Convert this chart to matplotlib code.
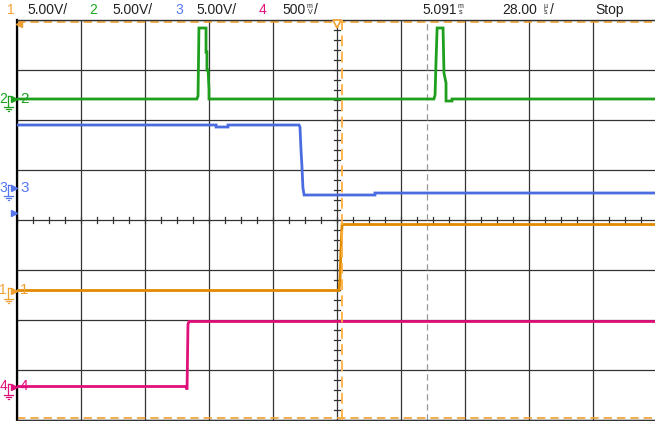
import matplotlib
matplotlib.use('Agg')
import matplotlib.pyplot as plt
from matplotlib.lines import Line2D
import numpy as np

plt.rcParams['font.family'] = ['Liberation Sans', 'DejaVu Sans']

# Ajustes del osciloscopio
t_div = 28.0          # us por division
n_div_x = 10
n_div_y = 8

# Canal 1 (naranja) 5 V/div, tierra en division -1.41
c1_escala, c1_offset = 5.0, -1.41
c1_t = [-140, 0.9, 1.3, 1.75, 2.2, 140]
c1_v = [0, 0, 1.1, 4.2, 6.6, 6.6]

# Canal 2 (verde) 5 V/div, tierra en division 2.42
c2_escala, c2_offset = 5.0, 2.42
c2_t = [-140, -61.3, -60.8, -60.4, -57.3, -57.3, -56.9, -56.9, -56.4, -56.0, -56.0,
        42.4, 42.9, 43.3, 43.8, 46.4, 46.8, 47.7, 47.7, 50.3, 50.3, 140]
c2_v = [0, 0, 0.3, 7.1, 7.1, 4.7, 4.7, 2.9, 2.9, 0.9, 0,
        0, 0.4, 3.6, 7.1, 7.1, 2.6, 1.6, -0.2, -0.2, 0, 0]

# Canal 3 (azul) 5 V/div, tierra en division 0.64
c3_escala, c3_offset = 5.0, 0.64
c3_t = [-140, -52.9, -52.9, -47.7, -47.7, -16.6, -16.2, -15.75, -15.3, -14.9, -14.4, 16.6, 16.6, 140]
c3_v = [6.3, 6.3, 6.1, 6.1, 6.3, 6.3, 6.1, 3.8, 2.0, 0, -0.7, -0.7, -0.5, -0.5]

# Canal 4 (magenta) 500 m/div, tierra en division -3.33
c4_escala, c4_offset = 0.5, -3.33
c4_t = [-140, -66.1, -65.6, -65.2, -64.75, 140]
c4_v = [0, 0, -0.03, 0.62, 0.65, 0.65]

# Cursores
cursor_disparo = 2.4
cursor_gris = 39.4

naranja = '#E08A00'
verde = '#1EA01E'
azul = '#4A6CE0'
rosa = '#E0107A'

W, H = 655, 421
fig = plt.figure(figsize=(W / 100, H / 100), dpi=100)
fig.patch.set_facecolor('white')

def fx(x):
    return x / W

def fy(y):
    return 1 - y / H

ax = fig.add_axes([fx(17), 1 / H, 640 / W, 400 / H])
ax.set_xlim(-t_div * n_div_x / 2, t_div * n_div_x / 2)
ax.set_ylim(-n_div_y / 2, n_div_y / 2)
ax.set_xticks([])
ax.set_yticks([])
for s in ax.spines.values():
    s.set_color('#333333')
    s.set_linewidth(1.0)
ax.spines['left'].set_color('black')
ax.spines['left'].set_linewidth(1.6)

# Reticula
for i in range(-5, 6):
    ax.axvline(i * t_div, color='#333333', lw=0.9, zorder=1)
for j in range(-4, 5):
    ax.axhline(j, color='#333333', lw=0.9, zorder=1)
# marcas en los ejes centrales
for k in np.arange(-4, 4.01, 0.2):
    ax.plot([-t_div * 0.045, t_div * 0.045], [k, k], color='#333333', lw=0.9, zorder=1)
for k in np.arange(-5, 5.01, 0.25):
    ax.plot([k * t_div, k * t_div], [-0.06, 0.06], color='#333333', lw=0.9, zorder=1)

# Cursores
ax.axvline(cursor_gris, color='#999999', lw=0.9, ls=(0, (5, 3)), zorder=2)
ax.axhline(3.97, color='#F0A030', lw=1.2, ls=(0, (5, 3)), zorder=2)
ax.axhline(-3.96, color='#F0A030', lw=1.2, ls=(0, (5, 3)), zorder=2)

# Trazas
canales = [(c2_t, c2_v, c2_escala, c2_offset, verde),
           (c3_t, c3_v, c3_escala, c3_offset, azul),
           (c1_t, c1_v, c1_escala, c1_offset, naranja),
           (c4_t, c4_v, c4_escala, c4_offset, rosa)]
for t, v, esc, off, col in canales:
    ax.plot(t, off + np.array(v) / esc, color=col, lw=2.0, solid_joinstyle='miter', zorder=3)

ax.axvline(cursor_disparo, color='#FFB040', lw=1.3, ls=(0, (6, 3)), zorder=4)
ax.plot([0], [3.93], marker='v', ms=6, mfc='white', mec='#F0A030', mew=1.2, clip_on=False, zorder=5)
ax.plot([-139], [3.93], marker='<', ms=5, color='#F0A030', clip_on=False, zorder=5)

# Marcadores de canal a la izquierda
marcas = [('2', c2_offset, verde), ('3', c3_offset, '#5577EE'),
          ('1', c1_offset, '#F0A030'), ('4', c4_offset, rosa)]
for nombre, off, col in marcas:
    y0 = 220 - off * 50
    fig.text(fx(-0.5), fy(y0), nombre, color=col, fontsize=10, va='center', ha='left')
    fig.text(fx(20), fy(y0), nombre, color=col, fontsize=11, va='center', ha='left')
    fig.add_artist(Line2D([fx(8), fx(8)], [fy(y0 - 3), fy(y0 + 8)], color=col, lw=0.9))
    fig.add_artist(Line2D([fx(8), fx(11)], [fy(y0 - 3), fy(y0 - 3)], color=col, lw=0.9))
    fig.add_artist(Line2D([fx(13.5)], [fy(y0)], marker='>', ms=5, color=col, lw=0))
    fig.add_artist(Line2D([fx(3.5), fx(12.5)], [fy(y0 + 8), fy(y0 + 8)], color=col, lw=0.9))
    fig.add_artist(Line2D([fx(5.5), fx(10.5)], [fy(y0 + 10), fy(y0 + 10)], color=col, lw=0.9))
    fig.add_artist(Line2D([fx(7.5), fx(8.5)], [fy(y0 + 12), fy(y0 + 12)], color=col, lw=0.9))
fig.add_artist(Line2D([fx(13.5)], [fy(213)], marker='>', ms=5, color='#5577EE', lw=0))

# Cabecera
texto = '#222222'
cab_y = fy(10)
fig.text(fx(7), cab_y, '1', color='#F0A030', fontsize=10, va='center')
fig.text(fx(27), cab_y, '5.00V/', color=texto, fontsize=10, va='center')
fig.text(fx(89), cab_y, '2', color='#22AA22', fontsize=10, va='center')
fig.text(fx(112), cab_y, '5.00V/', color=texto, fontsize=10, va='center')
fig.text(fx(175), cab_y, '3', color='#5577EE', fontsize=10, va='center')
fig.text(fx(196), cab_y, '5.00V/', color=texto, fontsize=10, va='center')
fig.text(fx(259), cab_y, '4', color=rosa, fontsize=10, va='center')
fig.text(fx(282), cab_y, '500', color=texto, fontsize=10, va='center')
fig.text(fx(307), fy(7), 'm', color=texto, fontsize=5, va='center')
fig.text(fx(308), fy(13), 'V', color=texto, fontsize=5, va='center')
fig.text(fx(314), cab_y, '/', color=texto, fontsize=10, va='center')
fig.text(fx(422), cab_y, '5.091', color=texto, fontsize=10, va='center')
fig.text(fx(458), fy(7), 'm', color=texto, fontsize=5, va='center')
fig.text(fx(459), fy(13), 's', color=texto, fontsize=5, va='center')
fig.text(fx(502), cab_y, '28.00', color=texto, fontsize=10, va='center')
fig.text(fx(544), fy(7), 'µ', color=texto, fontsize=5, va='center')
fig.text(fx(544), fy(13), 's', color=texto, fontsize=5, va='center')
fig.text(fx(550), cab_y, '/', color=texto, fontsize=10, va='center')
fig.text(fx(595), cab_y, 'Stop', color=texto, fontsize=10, va='center')

fig.savefig('out.png', dpi=100)
